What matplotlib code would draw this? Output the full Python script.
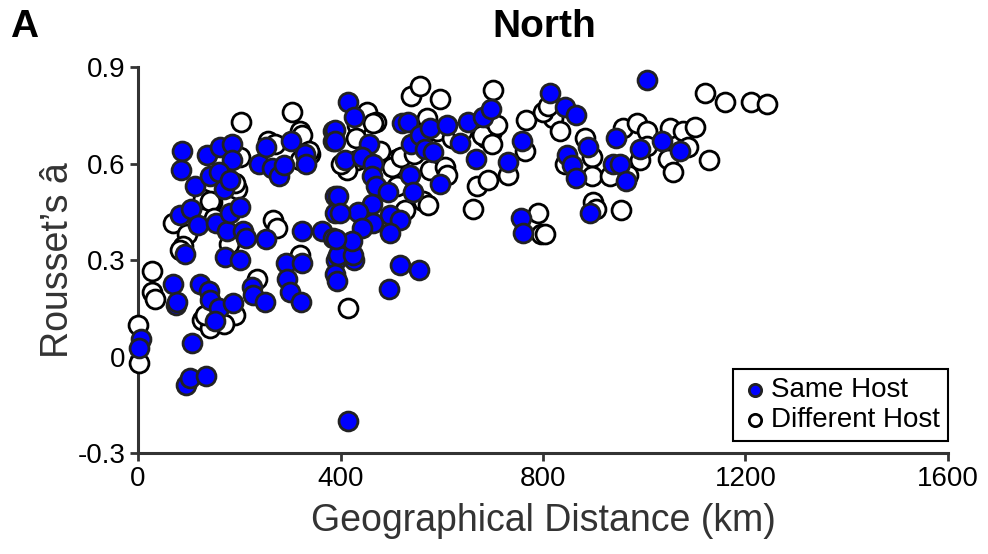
import matplotlib
matplotlib.use('Agg')
import matplotlib.pyplot as plt

plt.rcParams['font.family'] = ['Liberation Sans', 'DejaVu Sans']

# Same host pairs: distance (km), Rousset's a
same_km = [5, 2, 94, 103, 134, 106, 414,
           70, 75, 77, 122, 141, 142, 159, 187, 153, 225, 227, 251, 292, 323, 294, 300, 321,
           392, 389, 394, 427, 517, 555, 496,
           93, 172, 201, 83, 105, 118, 155, 175, 207, 213, 252, 323, 363, 386, 182, 201, 389,
           389, 396, 425,
           86, 84, 113, 137, 161, 185, 186, 142, 160, 170, 182, 238, 252, 264, 279, 288, 303,
           330, 332, 386, 386,
           415, 427, 389, 389, 457, 409, 442, 465, 462, 471, 494, 396, 462, 435, 399, 498, 517,
           465, 442, 498, 422, 392, 521, 534, 540, 557, 577, 567, 583, 610, 636, 652, 682, 698,
           668, 758, 731, 537, 596, 544, 756, 761,
           1005, 814, 843, 865, 945, 889, 847, 857, 866, 939, 952, 964, 991, 1036, 1070, 893]
same_a = [0.054, 0.027, -0.089, -0.067, -0.06, 0.042, -0.2,
          0.225, 0.16, 0.17, 0.225, 0.205, 0.175, 0.15, 0.165, 0.11, 0.215, 0.19, 0.17, 0.29, 0.29, 0.24, 0.2, 0.17,
          0.30, 0.255, 0.235, 0.30, 0.285, 0.27, 0.21,
          0.32, 0.31, 0.30, 0.44, 0.46, 0.41, 0.415, 0.39, 0.39, 0.37, 0.365, 0.39, 0.39, 0.37, 0.445, 0.465, 0.50,
          0.445, 0.315, 0.315,
          0.64, 0.58, 0.53, 0.625, 0.65, 0.66, 0.61, 0.56, 0.575, 0.52, 0.55, 0.60, 0.65, 0.585, 0.56, 0.595, 0.67,
          0.63, 0.60, 0.70, 0.67,
          0.79, 0.745, 0.705, 0.67, 0.66, 0.61, 0.62, 0.60, 0.56, 0.53, 0.51, 0.50, 0.475, 0.45, 0.445, 0.44, 0.425,
          0.415, 0.40, 0.385, 0.36, 0.365, 0.725, 0.73, 0.66, 0.69, 0.71, 0.645, 0.635, 0.72, 0.665, 0.73, 0.745, 0.77,
          0.615, 0.67, 0.605, 0.565, 0.535, 0.51, 0.43, 0.385,
          0.86, 0.82, 0.775, 0.75, 0.68, 0.65, 0.625, 0.595, 0.555, 0.60, 0.60, 0.545, 0.645, 0.67, 0.64, 0.445]

# Different host pairs
diff_km = [-1, 2,
           27, 27, 34, 236, 192, 126, 142, 132, 415, 320, 170,
           304, 203, 320, 201, 128, 146, 195, 69, 96, 89, 83, 267, 274, 320, 340, 257, 192, 142,
           323, 338, 270, 150, 180,
           540, 558, 596, 702, 453, 471, 432, 570, 767, 764, 731, 669, 692, 662, 791, 797, 511,
           501, 577, 606, 610, 511, 563, 573, 527, 478, 465, 432, 412, 688, 695, 700, 680, 520,
           545, 560, 590, 620, 640, 700, 710, 400, 430,
           1120, 1159, 1210, 1243, 814, 820, 833, 883, 896, 896, 843, 932, 958, 985, 1005, 991,
           1005, 968, 1051, 1077, 1100, 1087, 1047, 1057, 1128, 899, 905, 955, 800, 804, 810]
diff_a = [0.098, -0.02,
          0.265, 0.2, 0.18, 0.24, 0.13, 0.115, 0.09, 0.13, 0.15, 0.315, 0.10,
          0.76, 0.73, 0.70, 0.62, 0.49, 0.48, 0.52, 0.415, 0.38, 0.345, 0.33, 0.425, 0.40, 0.61, 0.63, 0.67, 0.54, 0.485,
          0.69, 0.64, 0.66, 0.43, 0.35,
          0.81, 0.84, 0.80, 0.83, 0.76, 0.73, 0.72, 0.74, 0.735, 0.64, 0.565, 0.53, 0.55, 0.46, 0.445, 0.38, 0.615,
          0.59, 0.58, 0.59, 0.565, 0.53, 0.485, 0.47, 0.455, 0.64, 0.725, 0.61, 0.58, 0.68, 0.715, 0.70, 0.69, 0.62,
          0.63, 0.66, 0.70, 0.68, 0.70, 0.66, 0.72, 0.60, 0.68,
          0.82, 0.79, 0.79, 0.785, 0.76, 0.74, 0.70, 0.68, 0.62, 0.56, 0.60, 0.56, 0.71, 0.725, 0.70, 0.61,
          0.655, 0.565, 0.71, 0.70, 0.715, 0.65, 0.615, 0.575, 0.61, 0.48, 0.46, 0.455, 0.76, 0.38, 0.78]

x_ticks = [0, 400, 800, 1200, 1600]
y_ticks = [-0.3, 0, 0.3, 0.6, 0.9]
y_ticklabels = ['-0.3', '0', '0.3', '0.6', '0.9']

fig = plt.figure(figsize=(9.88, 5.54), dpi=100)
ax = fig.add_axes([0.1397, 0.1823, 0.8198, 0.6967])

ax.scatter(diff_km, diff_a, s=185, facecolor='white', edgecolor='black', linewidth=2.0,
           label='Different Host', zorder=3, clip_on=False)
ax.scatter(same_km, same_a, s=185, facecolor='#0000ff', edgecolor='#222222', linewidth=2.0,
           label='Same Host', zorder=4, clip_on=False)

ax.set_xlim(0, 1600)
ax.set_ylim(-0.3, 0.9)
ax.set_xticks(x_ticks)
ax.set_yticks(y_ticks)
ax.set_yticklabels(y_ticklabels)

for s in ['top', 'right']:
    ax.spines[s].set_visible(False)
for s in ['left', 'bottom']:
    ax.spines[s].set_linewidth(2.2)
    ax.spines[s].set_color('#333333')
ax.tick_params(direction='out', length=6, width=2, color='#333333', labelsize=20, pad=3)

ax.set_xlabel('Geographical Distance (km)', fontsize=27, color='#333333', labelpad=8)
ax.set_ylabel('Rousset\u2019s \u00e2', fontsize=27, color='#333333', labelpad=1)

handles, labels = ax.get_legend_handles_labels()
leg = ax.legend(handles[::-1], labels[::-1], loc='lower right', bbox_to_anchor=(1.0, 0.03),
                borderaxespad=0, fontsize=20, markerscale=0.65, handletextpad=0.05,
                handlelength=1.0, labelspacing=0.15, fancybox=False, framealpha=1,
                borderpad=0.3)
leg.get_frame().set_edgecolor('black')
leg.get_frame().set_linewidth(1.5)

fig.text(0.551, 0.952, 'North', fontsize=28, fontweight='bold', ha='center', va='center')
fig.text(0.01, 0.952, 'A', fontsize=28, fontweight='bold', ha='left', va='center')

fig.savefig('out.png', dpi=100)
